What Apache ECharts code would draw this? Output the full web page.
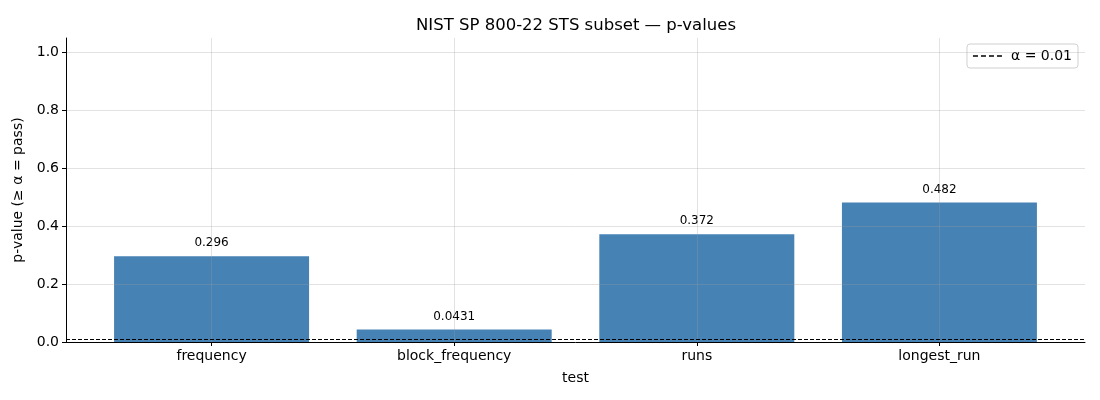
<!DOCTYPE html>
<html>
<head>
<meta charset="utf-8">
<script src="https://cdn.jsdelivr.net/npm/echarts@6/dist/echarts.min.js"></script>
<style>
html, body { margin: 0; padding: 0; background: #fff; }
#chart { width: 1100px; height: 400px; }
</style>
</head>
<body>
<div id="chart"></div>
<script>
// test names and p-values
var tests = ['frequency', 'block_frequency', 'runs', 'longest_run'];
var pValues = [0.296, 0.0431, 0.372, 0.482];
var pLabels = ['0.296', '0.0431', '0.372', '0.482'];
var alpha = 0.01;
var yTicks = [0, 0.2, 0.4, 0.6, 0.8, 1.0];

var chart = echarts.init(document.getElementById('chart'));

var barData = pValues.map(function(v, i) { return [i, v]; });
var gridColor = 'rgba(160,160,160,0.3)';
// four short dashes, like the matplotlib legend handle
var dashIcon = 'path://M0,0h5v1.4h-5z M8,0h5v1.4h-5z M16,0h5v1.4h-5z M24,0h5v1.4h-5z';

var option = {
    animation: false,
    textStyle: { fontFamily: 'DejaVu Sans' },
    title: {
        text: 'NIST SP 800-22 STS subset \u2014 p-values',
        left: 571,
        top: 12,
        textAlign: 'center',
        textStyle: { fontSize: 16.5, fontWeight: 'normal', color: '#000', fontFamily: 'DejaVu Sans' }
    },
    legend: {
        right: 22,
        top: 44,
        data: [{ name: '\u03b1 = 0.01', icon: dashIcon }],
        itemWidth: 29,
        itemHeight: 1.4,
        itemGap: 10,
        padding: [5, 6, 5, 6],
        borderColor: '#d0d0d0',
        borderWidth: 1,
        borderRadius: 3,
        itemStyle: { color: '#000' },
        textStyle: { fontSize: 14, color: '#000', padding: [0, 0, 0, 4] }
    },
    grid: { left: 66, right: 15, top: 38, bottom: 58 },
    xAxis: {
        type: 'value',
        min: -0.6,
        max: 3.6,
        z: 5,
        name: 'test',
        nameLocation: 'middle',
        nameGap: 29,
        nameTextStyle: { fontSize: 14, color: '#000' },
        axisLine: { onZero: false, lineStyle: { color: '#000', width: 1 } },
        axisTick: { show: true, customValues: [0, 1, 2, 3], length: 4, lineStyle: { color: '#000' } },
        axisLabel: {
            customValues: [0, 1, 2, 3],
            fontSize: 14,
            color: '#000',
            margin: 7,
            formatter: function(v) { return tests[Math.round(v)]; }
        },
        splitLine: { show: false }
    },
    yAxis: {
        type: 'value',
        min: 0,
        max: 1.05,
        z: 5,
        name: 'p-value (\u2265 \u03b1 = pass)',
        nameLocation: 'middle',
        nameGap: 38,
        nameTextStyle: { fontSize: 14, color: '#000' },
        axisLine: { show: true, onZero: false, lineStyle: { color: '#000', width: 1 } },
        axisTick: { show: true, customValues: yTicks, length: 4, lineStyle: { color: '#000' } },
        axisLabel: {
            customValues: yTicks,
            fontSize: 14,
            color: '#000',
            margin: 7,
            formatter: function(v) { return v.toFixed(1); }
        },
        splitLine: { show: false }
    },
    series: [{
        name: 'p-value',
        type: 'bar',
        data: barData,
        barWidth: 195,
        z: 2,
        itemStyle: { color: '#4682b4' },
        label: {
            show: true,
            position: 'top',
            distance: 7,
            fontSize: 12,
            color: '#000',
            formatter: function(p) { return pLabels[p.dataIndex]; }
        }
    }, {
        // grid lines drawn over the bars like matplotlib
        name: 'grid',
        type: 'line',
        data: [],
        z: 3,
        silent: true,
        markLine: {
            symbol: 'none',
            silent: true,
            label: { show: false },
            lineStyle: { color: gridColor, type: 'solid', width: 1 },
            data: [0, 1, 2, 3].map(function(x) { return { xAxis: x }; })
                .concat(yTicks.slice(1).map(function(y) { return { yAxis: y }; }))
        }
    }, {
        name: '\u03b1 = 0.01',
        type: 'line',
        data: [],
        z: 4,
        symbol: 'none',
        lineStyle: { color: '#000', type: 'dashed', width: 1 },
        itemStyle: { color: '#000' },
        markLine: {
            symbol: 'none',
            silent: true,
            label: { show: false },
            lineStyle: { color: '#000', type: [4, 2], width: 1 },
            data: [{ yAxis: alpha }]
        }
    }]
};

chart.setOption(option);
</script>
</body>
</html>
